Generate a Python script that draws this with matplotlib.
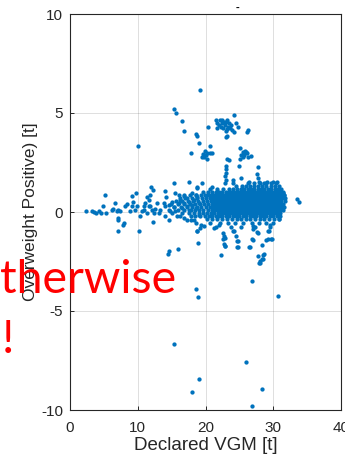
import matplotlib
matplotlib.use('Agg')
import matplotlib.pyplot as plt

plt.rcParams['font.family'] = ['Liberation Sans', 'DejaVu Sans']
plt.rcParams['axes.unicode_minus'] = False

DOT = '#0072BD'
INK = '#262626'

# sparse left tail of the band around zero (Declared VGM [t], overweight [t])
left_pts = [
    (2.43, 0.05), (3.18, 0.05), (3.57, -0.02), (3.82, -0.05), (4.31, 0.07),
    (4.56, -0.07), (4.90, 0.32), (5.16, 0.88), (5.30, -0.07), (6.15, 0.12),
    (6.39, 0.15), (6.64, 0.43), (6.89, 0.03), (7.13, 0.12), (7.39, 0.07),
    (7.04, -0.30), (7.13, -0.42), (7.98, -0.55), (7.78, -0.64), (8.17, 0.28),
    (8.47, 0.42), (8.87, 0.03), (9.12, 0.28), (9.36, 0.53), (9.12, 0.82),
    (9.71, 0.98), (9.61, 0.12), (9.87, 0.32), (10.36, -0.22), (10.61, 0.03),
    (10.85, 0.32), (11.10, 0.45), (11.35, 0.78), (11.59, 0.62), (11.84, 0.87),
    (11.99, 1.25), (12.24, 1.12), (11.84, 0.32), (12.10, 0.12), (12.33, -0.05),
    (11.35, -0.05), (12.18, -0.52), (10.85, 0.12), (11.59, 0.28), (12.59, 0.15),
    (12.84, 0.45), (13.08, -0.05), (13.33, 0.08), (13.82, 0.45), (14.07, 0.28),
    (14.17, 0.78), (14.56, 0.37), (15.07, 0.53), (15.30, 0.25), (14.81, 0.03),
    (15.56, 0.03), (15.45, 0.98), (14.07, -0.22), (14.56, -0.39), (15.07, -0.05),
    (15.80, -0.22), (16.05, 0.45), (16.30, 0.62), (16.55, 0.20), (16.79, 0.45),
    (17.04, 0.70), (17.30, 0.28), (17.53, 0.53), (17.79, 0.12), (18.04, 0.37),
    (18.28, 0.62), (18.53, 0.20), (18.78, 0.78), (19.02, 0.45), (16.05, 0.87),
    (16.79, 0.82), (18.04, 0.95), (18.53, 0.87), (16.30, -0.22), (16.79, -0.30),
    (17.30, -0.39), (17.79, -0.22), (18.28, -0.39), (19.02, -0.14), (18.53, -0.56),
    (17.93, -0.39), (15.31, 1.45), (17.53, 1.49), (18.68, 1.20), (19.52, 1.45),
    (18.78, 1.24), (20.90, 1.28), (14.07, 1.04),
]

# dense core of the band, one list of VGM values per overweight level
core_rows = [
    (1.45, [26.3, 27.1, 28.1, 28.9, 29.7, 30.4]),
    (1.30, [24.5, 25.4, 26.0, 26.6, 27.2, 27.8, 28.4, 29.0, 29.6, 30.2, 30.8]),
    (1.15, [20.6, 21.7, 22.6, 23.5, 24.1, 24.7, 25.2, 25.7, 26.2, 26.7, 27.2,
            27.7, 28.2, 28.7, 29.2, 29.7, 30.2, 30.7, 31.2]),
    (1.00, [19.6, 20.3, 20.9, 21.5, 22.0, 22.5, 23.0, 23.4, 23.8, 24.2, 24.6,
            25.0, 25.4, 25.8, 26.2, 26.6, 27.0, 27.4, 27.8, 28.2, 28.6, 29.0,
            29.4, 29.8, 30.2, 30.6, 31.0, 31.4]),
    (0.85, [16.9, 17.7, 18.6, 19.3, 19.9, 20.4, 20.8, 21.2, 21.6, 22.0, 22.4,
            22.8, 23.2, 23.6, 24.0, 24.4, 24.8, 25.2, 25.6, 26.0, 26.4, 26.8,
            27.2, 27.6, 28.0, 28.4, 28.8, 29.2, 29.6, 30.0, 30.4, 30.8, 31.2, 31.6]),
    (0.70, [16.3, 17.2, 18.0, 18.8, 19.5, 20.1, 20.6, 21.0, 21.4, 21.8, 22.2,
            22.6, 23.0, 23.4, 23.8, 24.2, 24.6, 25.0, 25.4, 25.8, 26.2, 26.6,
            27.0, 27.4, 27.8, 28.2, 28.6, 29.0, 29.4, 29.8, 30.2, 30.6, 31.0, 31.5]),
    (0.55, [15.7, 16.6, 17.4, 18.2, 18.9, 19.6, 20.2, 20.8, 21.2, 21.6, 22.0,
            22.4, 22.8, 23.2, 23.6, 24.0, 24.4, 24.8, 25.2, 25.6, 26.0, 26.4,
            26.8, 27.2, 27.6, 28.0, 28.4, 28.8, 29.2, 29.6, 30.0, 30.4, 30.8,
            31.2, 31.7]),
    (0.40, [14.9, 15.9, 16.9, 17.7, 18.5, 19.2, 19.8, 20.4, 20.9, 21.4, 21.8,
            22.2, 22.6, 23.0, 23.4, 23.8, 24.2, 24.6, 25.0, 25.4, 25.8, 26.2,
            26.6, 27.0, 27.4, 27.8, 28.2, 28.6, 29.0, 29.4, 29.8, 30.2, 30.6,
            31.0, 31.5]),
    (0.25, [15.4, 16.4, 17.2, 18.0, 18.7, 19.4, 20.0, 20.6, 21.1, 21.6, 22.0,
            22.4, 22.8, 23.2, 23.6, 24.0, 24.4, 24.8, 25.2, 25.6, 26.0, 26.4,
            26.8, 27.2, 27.6, 28.0, 28.4, 28.8, 29.2, 29.6, 30.0, 30.4, 30.8,
            31.2, 31.6]),
    (0.10, [14.6, 16.0, 16.8, 17.6, 18.4, 19.1, 19.7, 20.3, 20.9, 21.4, 21.8,
            22.2, 22.6, 23.0, 23.4, 23.8, 24.2, 24.6, 25.0, 25.4, 25.8, 26.2,
            26.6, 27.0, 27.4, 27.8, 28.2, 28.6, 29.0, 29.4, 29.8, 30.2, 30.6,
            31.0, 31.4]),
    (-0.05, [16.6, 17.5, 18.3, 19.0, 19.6, 20.2, 20.8, 21.3, 21.8, 22.2, 22.6,
             23.0, 23.4, 23.8, 24.2, 24.6, 25.0, 25.4, 25.8, 26.2, 26.6, 27.0,
             27.4, 27.8, 28.2, 28.6, 29.0, 29.4, 29.8, 30.2, 30.6, 31.0]),
    (-0.20, [18.5, 19.2, 19.9, 20.5, 21.0, 21.5, 22.0, 22.5, 23.0, 23.5, 24.0,
             24.5, 25.0, 25.5, 26.0, 26.5, 27.0, 27.5, 28.0, 28.5, 29.0, 29.5,
             30.0, 30.5, 31.0]),
    (-0.35, [20.2, 21.0, 21.7, 22.4, 23.2, 23.9, 24.6, 25.3, 26.0, 26.6, 27.3,
             28.0, 28.7, 29.4, 30.1, 30.9]),
    (-0.55, [20.7, 22.1, 23.3, 24.4, 25.6, 26.9, 27.9, 28.9, 29.9]),
    (-0.75, [21.5, 23.8, 25.2, 27.3, 29.5]),
]

# points above the band: clusters near 3 t and 4.5 t, vertical streaks
upper_pts = [
    (19.17, 6.14), (15.40, 5.22), (15.66, 5.00), (16.50, 4.62), (16.80, 4.08),
    (10.00, 3.33), (18.60, 3.95), (18.70, 3.82), (19.00, 3.51), (20.30, 4.30),
    (20.60, 3.33), (17.90, 2.99),
    (21.50, 4.67), (21.75, 4.50), (22.14, 4.63), (22.50, 4.67), (22.50, 4.47),
    (22.84, 4.37), (22.99, 4.55), (23.24, 4.67), (23.33, 4.30), (23.63, 4.22),
    (23.98, 4.13), (23.14, 4.17), (22.64, 4.25), (22.24, 4.30), (21.75, 4.22),
    (22.99, 3.77), (23.14, 3.85), (24.52, 4.47), (24.81, 4.27), (24.22, 4.90),
    (26.06, 4.05), (26.26, 4.13), (24.22, 4.05), (23.73, 4.40), (22.00, 4.40),
    (23.50, 4.50), (22.70, 4.55), (23.00, 4.10),
    (19.91, 3.08), (20.27, 3.00), (19.67, 2.93), (20.02, 2.87), (20.65, 2.96),
    (21.00, 2.96), (19.76, 2.76), (20.27, 2.66), (19.52, 2.79),
    (25.11, 3.21), (25.47, 3.04), (25.81, 3.09), (26.10, 2.96), (25.71, 2.88),
    (25.22, 2.88), (26.20, 2.79), (26.70, 2.83), (25.07, 2.66), (25.60, 2.76),
    (25.96, 3.01),
    (23.48, 2.63), (22.99, 2.34), (23.03, 2.16), (24.96, 2.34), (27.70, 2.29),
    (23.00, 1.95), (22.90, 1.80), (23.05, 1.62), (22.95, 1.45), (23.24, 2.66),
    (24.00, 1.60), (24.10, 1.45), (25.20, 1.71), (27.55, 1.91), (27.70, 1.71),
    (27.85, 1.54), (29.03, 1.54), (29.93, 1.54), (30.52, 1.54), (26.45, 1.49),
    (28.68, 1.45), (33.49, 0.67), (33.79, 0.50), (31.65, 0.87), (31.80, 0.70),
    (31.41, 0.95),
]

# points below the band down to -10 t
lower_pts = [
    (18.72, -0.97), (22.64, -1.05), (22.84, -1.31), (22.74, -1.61), (22.88, -1.74),
    (24.13, -0.97), (24.81, -1.44), (24.72, -1.79), (26.55, -1.76), (26.95, -1.39),
    (27.59, -1.00), (28.29, -1.68), (28.53, -2.18), (28.44, -2.39), (28.00, -2.60),
    (28.97, -1.39), (29.18, -0.97), (29.78, -1.38), (22.35, -2.19), (18.93, -1.58),
    (14.56, -1.98), (14.41, -2.14), (16.00, -1.88), (18.63, -3.87), (18.83, -4.27),
    (30.67, -4.24), (26.85, -3.50), (15.41, -6.66), (25.96, -7.57), (19.02, -8.45),
    (18.04, -9.07), (28.38, -8.95), (26.80, -9.82), (10.21, -0.97), (7.04, -0.94),
    (18.78, -0.97), (27.85, -2.60), (28.08, -2.48), (28.34, -2.36), (28.59, -2.14),
    (27.70, -2.23), (26.45, -1.78), (22.74, -1.22), (22.64, -1.36), (22.84, -1.73),
    (27.04, -0.85), (29.33, -0.97), (27.70, -1.05), (29.18, -1.34), (29.67, -1.34),
    (26.85, -1.34), (21.25, -0.80), (21.99, -0.64), (19.76, -0.69), (19.27, -0.64),
    (19.17, -0.80), (24.81, -1.78), (24.72, -1.48), (24.47, -1.22), (24.22, -0.97),
    (26.95, -0.72), (30.90, -0.35), (29.50, -0.64),
]

xs = [p[0] for p in left_pts + upper_pts + lower_pts]
ys = [p[1] for p in left_pts + upper_pts + lower_pts]
for level, row in core_rows:
    xs.extend(row)
    ys.extend([level] * len(row))

fig = plt.figure(figsize=(3.45, 4.63), dpi=100)
ax = fig.add_axes([70 / 345, 1 - 410 / 463, 271 / 345, 396 / 463])

ax.scatter(xs, ys, s=9.5, c=DOT, linewidths=0, zorder=3)

ax.set_xlim(0, 40)
ax.set_ylim(-10, 10)
ax.set_xticks([0, 10, 20, 30, 40])
ax.set_yticks([-10, -5, 0, 5, 10])
ax.grid(True, color=INK, alpha=0.15, linewidth=0.7)
ax.set_axisbelow(True)
for sp in ax.spines.values():
    sp.set_color(INK)
    sp.set_linewidth(0.8)
ax.tick_params(direction='in', length=3, width=0.7, colors=INK, labelsize=11)
ax.tick_params(axis='x', pad=8)
ax.tick_params(axis='y', pad=5)

ax.set_xlabel('Declared VGM [t]', fontsize=13.5, color=INK, labelpad=1)
ax.set_ylabel('Overweight Positive) [t]', fontsize=12.5, color=INK, labelpad=2)

# cut-off title mark and red annotation over the left margin
fig.text(237 / 345, 1 - 8 / 463, '-', fontsize=8, fontweight='bold',
         color='black', ha='center', va='center')
fig.text(0.0, 1 - 293 / 463, 'therwise', fontsize=33.5, color='#FF0000',
         family='Lato', ha='left', va='baseline')
fig.text(2 / 345, 1 - 353 / 463, '!', fontsize=33.5, color='#FF0000',
         family='Lato', ha='left', va='baseline')

fig.savefig('out.png', dpi=100)
